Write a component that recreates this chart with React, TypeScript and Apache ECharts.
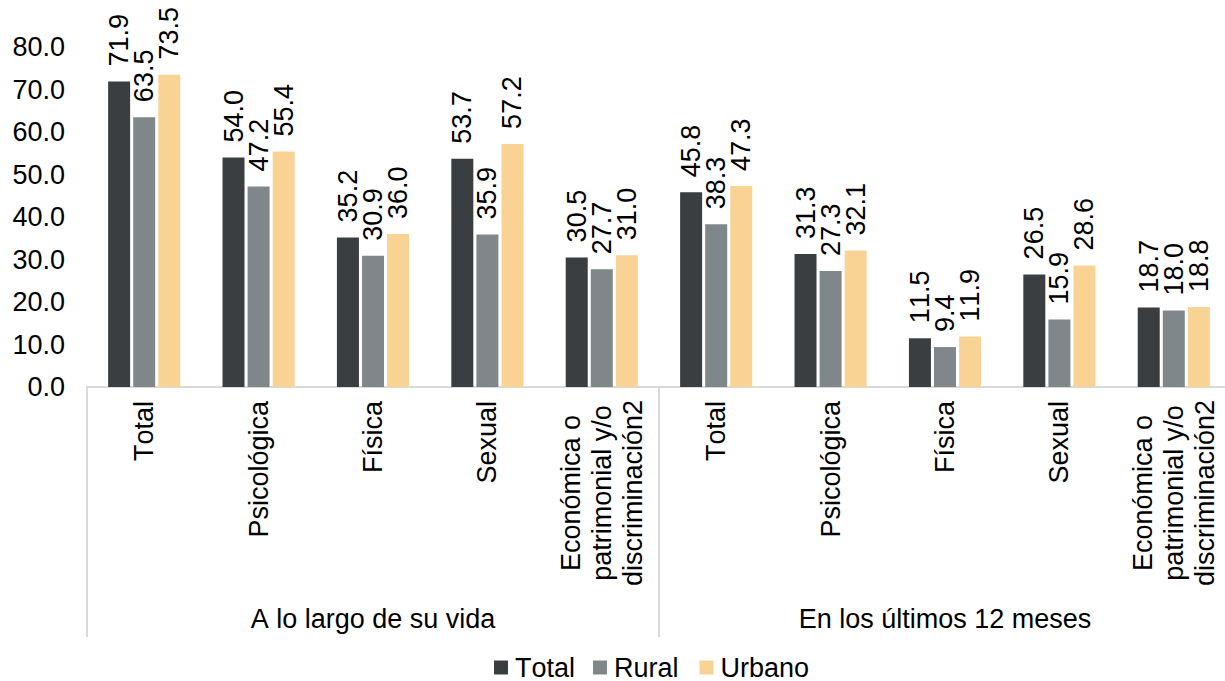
import React, { useEffect, useRef } from "react";
import * as echarts from "echarts";

const categories = [
  "Total",
  "Psicológica",
  "Física",
  "Sexual",
  "Económica o\npatrimonial y/o\ndiscriminación2",
  "Total",
  "Psicológica",
  "Física",
  "Sexual",
  "Económica o\npatrimonial y/o\ndiscriminación2",
];
const groups = ["A lo largo de su vida", "En los últimos 12 meses"];
const seriesNames = ["Total", "Rural", "Urbano"];
const totalValues = [71.9, 54.0, 35.2, 53.7, 30.5, 45.8, 31.3, 11.5, 26.5, 18.7];
const ruralValues = [63.5, 47.2, 30.9, 35.9, 27.7, 38.3, 27.3, 9.4, 15.9, 18.0];
const urbanoValues = [73.5, 55.4, 36.0, 57.2, 31.0, 47.3, 32.1, 11.9, 28.6, 18.8];
const colors = ["#3a3e41", "#7f878b", "#f8d394"];

const FONT = "'Liberation Sans', Arial, sans-serif";
const FS = 27;

export default function App() {
  const ref = useRef<HTMLDivElement>(null);
  useEffect(() => {
    if (!ref.current) return;
    const chart = echarts.init(ref.current, null, { renderer: "svg" });
    const values = [totalValues, ruralValues, urbanoValues];
    const catData = categories.map((c) =>
      c.indexOf("\n") >= 0
        ? {
            value: c,
            textStyle: {
              align: "center",
              padding: [0, 184, 0, 0],
              lineHeight: 31,
              fontSize: FS,
              color: "#000",
              fontFamily: FONT,
            },
          }
        : c
    );
    chart.setOption({
      animation: false,
      textStyle: { fontFamily: FONT, color: "#000" },
      grid: { left: 87, top: 47, width: 1144, height: 340, containLabel: false },
      legend: {
        top: 649,
        left: 489,
        icon: "rect",
        itemWidth: 14,
        itemHeight: 14,
        itemGap: 21,
        textStyle: {
          fontSize: FS,
          color: "#000",
          fontFamily: FONT,
          padding: [0, 0, 0, 2],
        },
        data: seriesNames,
      },
      xAxis: [
        {
          type: "category",
          data: catData,
          position: "bottom",
          axisLine: { show: true, lineStyle: { color: "#d9d9d9", width: 2 } },
          axisTick: { show: false },
          axisLabel: {
            rotate: 90,
            margin: 14,
            interval: 0,
            fontSize: FS,
            lineHeight: 31,
            color: "#000",
            fontFamily: FONT,
          },
        },
        {
          type: "category",
          data: groups,
          position: "bottom",
          axisLine: { show: false },
          axisTick: { show: true, length: 250, lineStyle: { color: "#d9d9d9", width: 2 } },
          axisLabel: { margin: 218, fontSize: FS, color: "#000", fontFamily: FONT },
        },
      ],
      yAxis: {
        type: "value",
        min: 0,
        max: 80,
        interval: 10,
        axisLine: { show: false },
        axisTick: { show: false },
        splitLine: { show: false },
        axisLabel: {
          margin: 22,
          fontSize: FS,
          color: "#000",
          fontFamily: FONT,
          formatter: (v: number) => v.toFixed(1),
        },
      },
      series: seriesNames.map((name, i) => ({
        name,
        type: "bar",
        xAxisIndex: 0,
        data: values[i],
        barWidth: 22,
        barGap: "14%",
        itemStyle: { color: colors[i] },
        label: {
          show: true,
          position: "top",
          rotate: 90,
          align: "left",
          verticalAlign: "middle",
          distance: 15,
          fontSize: FS,
          color: "#000",
          fontFamily: FONT,
          formatter: (p: any) => Number(p.value).toFixed(1),
        },
      })),
    });
    return () => chart.dispose();
  }, []);
  return (
    <div
      style={{
        position: "absolute",
        left: 0,
        top: 0,
        width: 1225,
        height: 681,
        overflow: "hidden",
        background: "#fff",
        fontKerning: "none",
      }}
    >
      <div ref={ref} style={{ width: 1250, height: 681, fontKerning: "none" }} />
    </div>
  );
}
